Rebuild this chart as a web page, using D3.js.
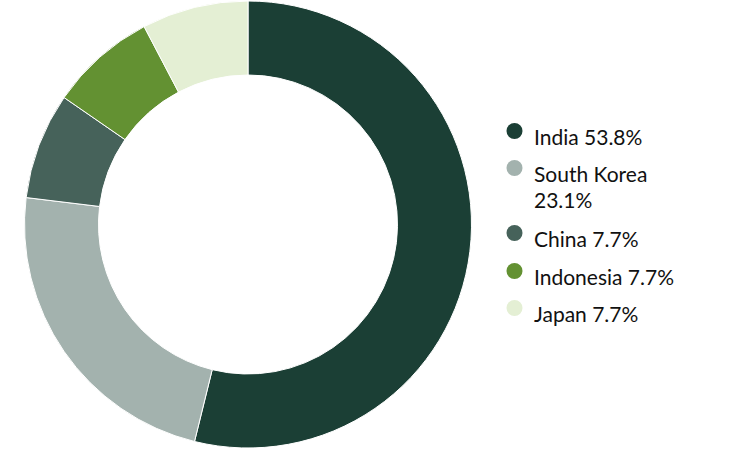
<!DOCTYPE html>
<html><head><meta charset="utf-8">
<script src="https://cdn.jsdelivr.net/npm/d3@7"></script>
<style>body{margin:0;background:#fff}svg{display:block}</style>
</head><body>
<svg id="c" width="750" height="450"></svg>
<script>
const categories = ["India","South Korea","China","Indonesia","Japan"];
const values = [7,3,1,1,1];
const labels = ["India 53.8%","South Korea|23.1%","China 7.7%","Indonesia 7.7%","Japan 7.7%"];
const colors = ["#1b3f35","#a3b2ae","#46625a","#639132","#e4efd4"];

const svg = d3.select("#c");
const cx = 248, cy = 224.5, R = 223.5, r = 149.5;
const data = categories.map((c,i)=>({c, v: values[i], col: colors[i], lab: labels[i]}));
const pie = d3.pie().value(d=>d.v).sort(null);
const arc = d3.arc().innerRadius(r).outerRadius(R);
const g = svg.append("g").attr("transform",`translate(${cx},${cy})`);
g.selectAll("path").data(pie(data)).join("path")
  .attr("d",arc).attr("fill",d=>d.data.col)
  .attr("stroke","#fff").attr("stroke-width",1);

const leg = svg.append("g").attr("font-family","Lato, 'Open Sans', sans-serif").attr("font-size",21).attr("fill","#111");
const rowY = [131,168,233,271,308];
data.forEach((d,i)=>{
  leg.append("circle").attr("cx",514.5).attr("cy",rowY[i]).attr("r",8).attr("fill",d.col);
  const t = leg.append("text").attr("x",534).attr("y",rowY[i]+14);
  d.lab.split("|").forEach((line,k)=>{
    t.append("tspan").attr("x",534).attr("dy",k===0?0:26).text(line);
  });
});
</script>
</body></html>
